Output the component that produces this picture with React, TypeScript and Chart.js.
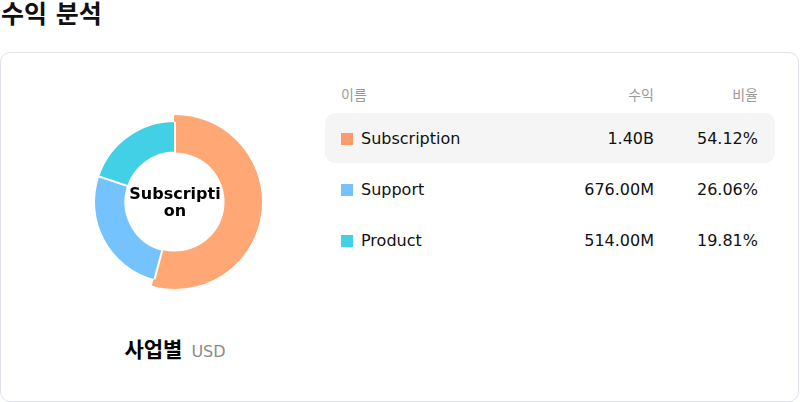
import { useEffect, useRef } from 'react';
import { Chart, registerables } from 'chart.js';

Chart.register(...registerables);

const segments = ['Subscription', 'Support', 'Product'];
const revenueM = [1404, 676, 514]; // millions USD
const swatchColors = ['#FF9B6A', '#74C3FF', '#42D0E6'];
const arcColors = ['#FFA775', '#74C3FF', '#42D0E6'];
const headers = ['이름', '수익', '비율'];

const FONT = '"DejaVu Sans", "Noto Sans CJK KR", sans-serif';

function fmtMoney(m: number) {
  if (m >= 1000) return `${(m / 1000).toFixed(2)}B`;
  return `${m.toFixed(2)}M`;
}

document.body.style.margin = '0';

export default function App() {
  const canvasRef = useRef<HTMLCanvasElement | null>(null);
  const total = revenueM.reduce((a, b) => a + b, 0);

  useEffect(() => {
    if (!canvasRef.current) return;
    const ctx = canvasRef.current.getContext('2d');
    if (!ctx) return;

    // outer thin ring only shows the first (emphasised) slice
    const chart = new Chart(ctx, {
      type: 'doughnut',
      data: {
        labels: segments,
        datasets: [
          {
            data: revenueM,
            backgroundColor: arcColors.map((c, i) => (i === 0 ? c : 'rgba(0,0,0,0)')),
            borderColor: arcColors.map((c, i) => (i === 0 ? c : 'rgba(0,0,0,0)')),
            borderWidth: revenueM.map((_, i) => (i === 0 ? 2 : 0)),
            weight: 5,
          },
          {
            data: revenueM,
            backgroundColor: arcColors,
            borderColor: '#ffffff',
            borderWidth: revenueM.map((_, i) => (i === 0 ? 0 : 2)),
            weight: 31.5,
          },
        ],
      },
      options: {
        responsive: false,
        animation: false,
        events: [],
        radius: 86,
        cutout: '57.6%',
        layout: { padding: 0 },
        plugins: {
          legend: { display: false },
          tooltip: { enabled: false },
        },
      },
    });

    return () => chart.destroy();
  }, []);

  return (
    <div style={{ position: 'relative', width: 800, height: 402, fontFamily: FONT, color: '#111' }}>
      <div
        style={{
          position: 'absolute',
          left: 1,
          top: 0,
          fontSize: 25,
          fontWeight: 700,
          lineHeight: '30px',
        }}
      >
        수익 분석
      </div>

      <div
        style={{
          position: 'absolute',
          left: 0,
          top: 52,
          width: 799,
          height: 350,
          boxSizing: 'border-box',
          border: '1px solid #e2e2ec',
          borderRadius: 10,
          background: '#fff',
        }}
      />

      <canvas
        ref={canvasRef}
        width={200}
        height={200}
        style={{ position: 'absolute', left: 75, top: 102, width: 200, height: 200 }}
      />

      <div
        style={{
          position: 'absolute',
          left: 175 - 48,
          top: 202 - 17,
          width: 96,
          textAlign: 'center',
          fontSize: 16,
          fontWeight: 700,
          lineHeight: '17px',
          wordBreak: 'break-all',
          color: '#000',
        }}
      >
        {segments[0]}
      </div>

      <div
        style={{
          position: 'absolute',
          left: 75,
          top: 333,
          width: 200,
          display: 'flex',
          justifyContent: 'center',
          alignItems: 'baseline',
          gap: 9,
        }}
      >
        <span style={{ fontSize: 21, fontWeight: 700, color: '#000' }}>사업별</span>
        <span style={{ fontSize: 16, color: '#8a8a8a' }}>USD</span>
      </div>

      <div style={{ position: 'absolute', left: 325, top: 85, width: 450 }}>
        <div style={{ position: 'relative', height: 20, fontSize: 14, color: '#999', lineHeight: '20px' }}>
          <span style={{ position: 'absolute', left: 16 }}>{headers[0]}</span>
          <span style={{ position: 'absolute', right: 121 }}>{headers[1]}</span>
          <span style={{ position: 'absolute', right: 17 }}>{headers[2]}</span>
        </div>
        <div style={{ height: 8 }} />
        {segments.map((name, i) => (
          <div
            key={name}
            style={{
              position: 'relative',
              height: 50,
              marginBottom: 1,
              borderRadius: 10,
              background: i === 0 ? '#f5f5f5' : 'transparent',
              fontSize: 16,
              lineHeight: '52px',
            }}
          >
            <span
              style={{
                position: 'absolute',
                left: 16,
                top: 20,
                width: 12,
                height: 12,
                background: swatchColors[i],
              }}
            />
            <span style={{ position: 'absolute', left: 36 }}>{name}</span>
            <span style={{ position: 'absolute', right: 121 }}>{fmtMoney(revenueM[i])}</span>
            <span style={{ position: 'absolute', right: 17 }}>
              {((revenueM[i] / total) * 100).toFixed(2)}%
            </span>
          </div>
        ))}
      </div>
    </div>
  );
}
